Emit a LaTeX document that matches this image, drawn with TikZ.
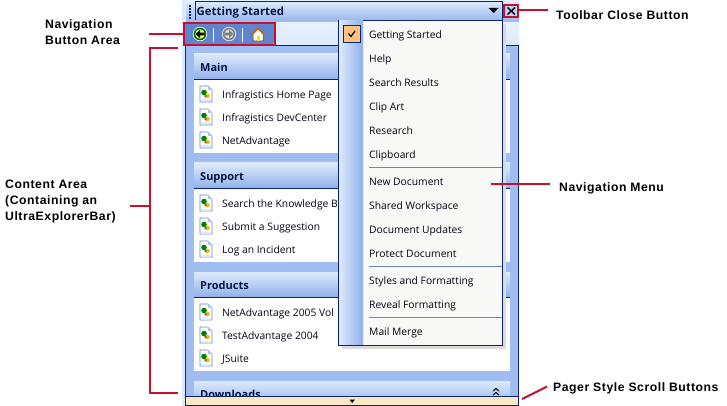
\documentclass[tikz,border=0pt]{standalone}
\usepackage{fontspec}
\setmainfont[LetterSpace=4.5]{Liberation Sans}
\newfontfamily\uifont{Open Sans}
\usetikzlibrary{calc}
\definecolor{navy}{HTML}{0A2472}
\definecolor{redline}{HTML}{C8102E}
\definecolor{panelblue}{HTML}{A0BDF2}
\definecolor{hdrtop}{HTML}{DDEAFC}
\definecolor{hdrbot}{HTML}{8FB0EA}
\definecolor{menubg}{HTML}{F8F8F6}
\definecolor{pager}{HTML}{FBE7C3}
\definecolor{sepcol}{HTML}{6B86B8}
\definecolor{checkbg}{HTML}{FFC27F}
\definecolor{navbg}{HTML}{5F85CE}
\tikzset{
 x=1pt,y=-1pt,
 ann/.style={font=\fontsize{12.2}{14}\selectfont\bfseries,anchor=base west,inner sep=0pt,text=black},
 item/.style={font=\uifont\fontsize{10.3}{12}\selectfont,anchor=base west,inner sep=0pt,text=black!85!navy,yshift=-.8pt},
 head/.style={font=\uifont\fontsize{11}{13}\selectfont\bfseries,anchor=base west,inner sep=0pt,text=navy!60!black,yshift=-.8pt},
 redbar/.style={draw=redline,line width=2pt},
 redbox/.style={draw=redline,line width=2pt,fill=none,inner sep=0pt},
 sepline/.style={draw=sepcol,line width=1pt},
 grouphead/.style={top color=hdrtop,bottom color=hdrbot,draw=none},
}
\newcommand{\docicon}[2]{%
 \begin{scope}[shift={(#1,#2)}]
  \fill[white,draw=sepcol,line width=.7pt] (-6,-8)--(2,-8)--(6,-4)--(6,8)--(-6,8)--cycle;
  \fill[hdrbot!70] (2,-8)--(6,-4)--(2,-4)--cycle;
  \fill[hdrtop] (-5,5.5) rectangle (5,7.5);
  \fill[green!50!black] (-2,-1.5) circle (2.8);
  \fill[yellow!70!orange!90!black] (1.5,2) circle (2.4);
  \fill[brown!80!black] (-0.5,2) circle (1.5);
 \end{scope}}
\begin{document}
\begin{tikzpicture}
\useasboundingbox (0,0) rectangle (727,406);
\fill[white] (0,0) rectangle (727,406);
% window chrome
\fill[hdrtop] (182,0) rectangle (186,406);
\shade[top color=hdrtop!70!white,bottom color=hdrbot] (186,0) rectangle (519,25);
\shade[top color=white!30!hdrtop,bottom color=hdrtop] (186,23) rectangle (519,46);
\foreach \yy in {5,8,11,14,17} \fill[navy] (188.5,\yy) rectangle (190.5,\yy+1.6);
% panel
\fill[panelblue] (185,46) rectangle (518,396);
\draw[navy,line width=1pt] (185.5,396) -- (185.5,45.5) -- (518.5,45.5) -- (518.5,396);
% title combo
\shade[top color=hdrtop,bottom color=hdrbot!90] (195,1.5) rectangle (502,20);
\draw[navy,line width=.9pt] (195,20) -- (195,1.5) -- (502,1.5) -- (502,20);
\node[head,font=\uifont\fontsize{11.4}{13}\selectfont\bfseries] (title) at (196.5,15) {Getting Started};
\fill[black] (488.5,8) -- (498.5,8) -- (493.5,13) -- cycle;
% nav button area
\fill[navbg] (184,24) rectangle (274,45);
\draw[white!70!hdrtop,line width=.8pt] (213.5,28) -- (213.5,42) (242.5,28) -- (242.5,42);
\fill[white] (272,45) -- (274,45) -- (274,43) -- cycle;
\fill[white] (200,34) circle (7.2);
\fill[green!45!black] (200,34) circle (6.4);
\fill[green!25!yellow!50!white] (200,34) circle (4.8);
\fill[black] (195.5,34) -- (200,30) -- (200,32.7) -- (204.5,32.7) -- (204.5,35.3) -- (200,35.3) -- (200,38) -- cycle;
\fill[white!75!gray] (229,34) circle (7.2);
\fill[gray] (229,34) circle (6.2);
\fill[white!75!gray] (229,34) circle (4.6);
\fill[gray] (233.5,34) -- (229,30) -- (229,32.7) -- (224.5,32.7) -- (224.5,35.3) -- (229,35.3) -- (229,38) -- cycle;
\fill[white,draw=black!70!brown,line width=.5pt] (253,41) -- (253,34) -- (258,29) -- (263,34) -- (263,41) -- cycle;
\fill[orange!80!black] (250.5,35) -- (258,27) -- (265.5,35) -- (263.5,35) -- (258,29.5) -- (252.5,35) -- cycle;
\fill[yellow!80!orange] (256.5,36) rectangle (259.5,41);
\node[redbox,minimum width=91pt,minimum height=22pt] (navarea) at (229,34) {};
% groups
\foreach \ya/\yb in {54/153,163/262,272/371} {
 \shade[grouphead] (194,\ya) rectangle (510,\ya+25.5);
 \fill[white] (194,\ya+26) rectangle (510,\yb);
 \draw[navy,line width=.9pt] (194,\ya+25.5) -- (510,\ya+25.5);
}
\begin{scope}
 \clip (194,381) rectangle (510,396);
 \shade[grouphead] (194,381) rectangle (510,406);
 \node[head] (gd) at (200,398) {Downloads};
\end{scope}
\node[head] (gm) at (200,71) {Main};
\node[head] (gs) at (200,180) {Support};
\node[head] (gp) at (200,289) {Products};
\foreach \yy in {94,117,140,203,226,249,312,335,358} \docicon{206}{\yy};
\node[item] (i1) at (222,97.5) {Infragistics Home Page};
\node[item] (i2) at (222,120.5) {Infragistics DevCenter};
\node[item] (i3) at (222,143.5) {NetAdvantage};
\node[item] (i4) at (222,206.5) {Search the Knowledge B};
\node[item] (i5) at (222,229.5) {Submit a Suggestion};
\node[item] (i6) at (222,252.5) {Log an Incident};
\node[item] (i7) at (222,315.5) {NetAdvantage 2005 Vol};
\node[item] (i8) at (222,338.5) {TestAdvantage 2004};
\node[item] (i9) at (222,361.5) {JSuite};
% chevron
\draw[black,line width=1pt] (493,391) -- (496,388.5) -- (499,391) (493,395) -- (496,392.5) -- (499,395);
% pager
\fill[pager,draw=navy,line width=.8pt] (185.5,396.5) rectangle (518.5,405.5);
\fill[black] (349.5,399.5) -- (355,399.5) -- (352.25,403) -- cycle;
% menu
\fill[black!14] (342,24) rectangle (506,349);
\fill[menubg,draw=navy,line width=.9pt] (338.5,20) rectangle (502,345);
\shade[left color=hdrtop,right color=hdrbot] (339,21) rectangle (363,344.5);
\fill[checkbg,draw=navy,line width=.8pt] (343,25) rectangle (360,42);
\draw[black,line width=1.2pt] (348.5,33.5) -- (351,36.5) -- (355,31);
\foreach \yy in {167,266,317} \draw[sepline] (369,\yy) -- (501.5,\yy);
\node[item] (m1) at (369,37.5) {Getting Started};
\node[item] (m2) at (369,61.5) {Help};
\node[item] (m3) at (369,85.5) {Search Results};
\node[item] (m4) at (369,109.5) {Clip Art};
\node[item] (m5) at (369,133.5) {Research};
\node[item] (m6) at (369,157.5) {Clipboard};
\node[item] (m7) at (369,184.5) {New Document};
\node[item] (m8) at (369,208.5) {Shared Workspace};
\node[item] (m9) at (369,232.5) {Document Updates};
\node[item] (m10) at (369,256.5) {Protect Document};
\node[item] (m11) at (369,283.5) {Styles and Formatting};
\node[item] (m12) at (369,307.5) {Reveal Formatting};
\node[item] (m13) at (369,334.5) {Mail Merge};
% close button
\fill[hdrtop!60!hdrbot] (505,5.5) rectangle (518,17);
\draw[black,line width=1.4pt] (507.5,7.5) -- (515,14.5) (515,7.5) -- (507.5,14.5);
\node[redbox,minimum width=14pt,minimum height=12pt] (closebtn) at (511,11) {};
% annotations
\node[ann] (lnav1) at (45,29) {Navigation};
\node[ann] (lnav2) at (45,45) {Button Area};
\node[ann] (lc1) at (5,188.5) {Content Area};
\node[ann] (lc2) at (5,204.5) {(Containing an};
\node[ann] (lc3) at (5,220.5) {UltraExplorerBar)};
\node[ann] (lclose) at (556,19.5) {Toolbar Close Button};
\node[ann] (lmenu) at (559,191.5) {Navigation Menu};
\node[ann] (lpager) at (553,391.5) {Pager Style Scroll Buttons};
\coordinate (a1) at (149,34);
\coordinate (b1) at (178,48);
\coordinate (b2) at (150,48);
\coordinate (b3) at (150,393);
\coordinate (b4) at (178,393);
\coordinate (b5) at (150,206);
\coordinate (b6) at (130,206);
\coordinate (c1) at (548,10);
\coordinate (d1) at (491,184);
\coordinate (d2) at (550,184);
\coordinate (e1) at (522,399);
\coordinate (e2) at (547,386.5);
\draw[redbar] (a1) -- (navarea.west |- a1);
\draw[redbar] (b1) -- (b2) -- (b3) -- (b4);
\draw[redbar] (b5) -- (b6);
\draw[redbar] (closebtn.east |- c1) -- (c1);
\draw[redbar] (d1) -- (d2);
\draw[redbar] (e1) -- (e2);
\end{tikzpicture}
\end{document}
